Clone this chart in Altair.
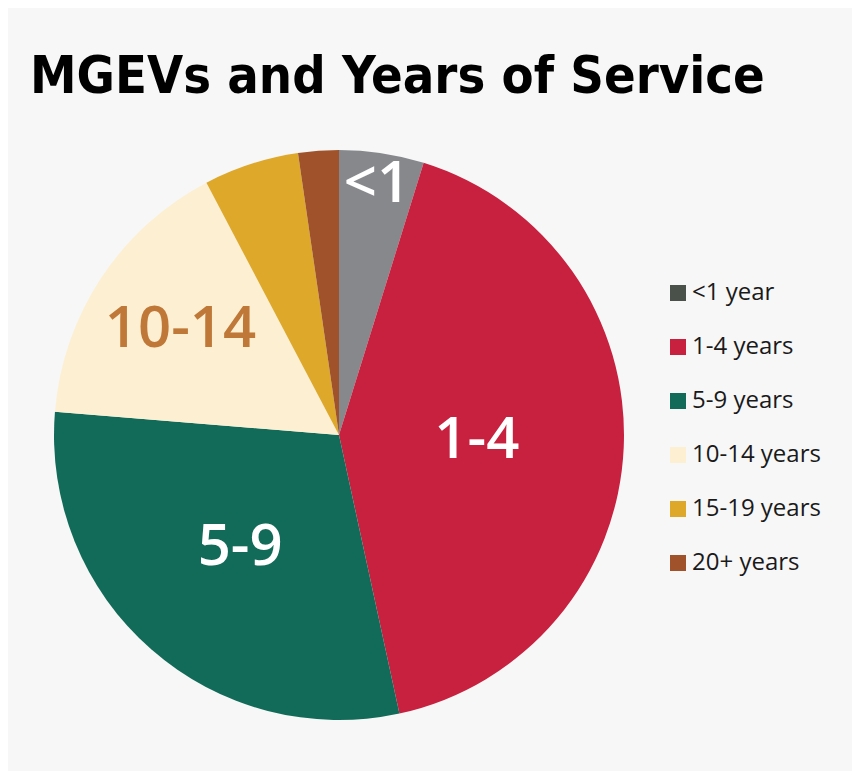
import altair as alt
import pandas as pd

categories = ["<1", "1-4", "5-9", "10-14", "15-19", "20+"]
legend_labels = ["<1 year", "1-4 years", "5-9 years", "10-14 years", "15-19 years", "20+ years"]
shares = [4.8, 41.8, 29.7, 16.0, 5.4, 2.3]
slice_labels = ["<1", "1-4", "5-9", "10-14", "", ""]

slice_colors = ["#87888b", "#c8203f", "#116b58", "#fdefd2", "#dea82a", "#a0522a"]
legend_colors = ["#4a504a", "#c8203f", "#116b58", "#fdefd2", "#dea82a", "#a0522a"]

df = pd.DataFrame({
    "cat": categories,
    "legend": legend_labels,
    "share": shares,
    "label": slice_labels,
    "order": list(range(len(categories))),
})

W, H = 844, 763
CX, CY, R = 331, 427, 285
theta_scale = alt.Scale(domain=[0, 100])

base = alt.Chart(df)

pie = base.mark_arc(outerRadius=R, stroke=None).encode(
    theta=alt.Theta("share:Q", stack=True, scale=theta_scale),
    order=alt.Order("order:Q"),
    color=alt.Color("cat:N", scale=alt.Scale(domain=categories, range=slice_colors), legend=None),
    x=alt.value(CX), y=alt.value(CY),
)

labels = base.transform_window(
    cum="sum(share)", sort=[alt.SortField("order")], frame=[None, 0]
).transform_calculate(
    mid="datum.cum - datum.share / 2",
    r="datum.cat == '<1' ? 253 : datum.cat == '1-4' ? 138 : datum.cat == '5-9' ? 150 : 190",
    fc="datum.cat == '10-14' ? '#c07838' : 'white'",
).transform_filter("datum.label != ''").mark_text(
    font="Open Sans", fontWeight=600, fontSize=58, baseline="middle", align="center"
).encode(
    theta=alt.Theta("mid:Q", stack=None, scale=theta_scale),
    radius=alt.Radius("r:Q", scale=None),
    text="label:N",
    color=alt.Color("fc:N", scale=None),
    x=alt.value(CX), y=alt.value(CY),
)

leg_y = alt.Y("legend:N", scale=alt.Scale(type="point", domain=legend_labels, range=[285, 555], padding=0), axis=None)

leg_sq = base.mark_square(size=256, opacity=1).encode(
    x=alt.value(670),
    y=leg_y,
    fill=alt.Fill("legend:N", scale=alt.Scale(domain=legend_labels, range=legend_colors), legend=None),
)

leg_txt = base.mark_text(align="left", baseline="middle", font="Open Sans", fontSize=24, color="#1a1a1a").encode(
    x=alt.value(684),
    y=leg_y,
    text="legend:N",
)

title = alt.Chart(pd.DataFrame({"t": ["MGEVs and Years of Service"]})).mark_text(
    align="left", baseline="alphabetic", font="DejaVu Sans Condensed, Liberation Sans Narrow, Open Sans",
    fontWeight="bold", fontSize=52, color="black"
).encode(x=alt.value(22), y=alt.value(85), text="t:N")

chart = alt.layer(pie, labels, leg_sq, leg_txt, title).properties(
    width=W, height=H,
    autosize=alt.AutoSizeParams(type="none"),
    padding=0,
    background="#f7f7f7",
).configure_view(stroke=None)

chart.save("out.html", embed_options={"renderer": "svg", "actions": False})
